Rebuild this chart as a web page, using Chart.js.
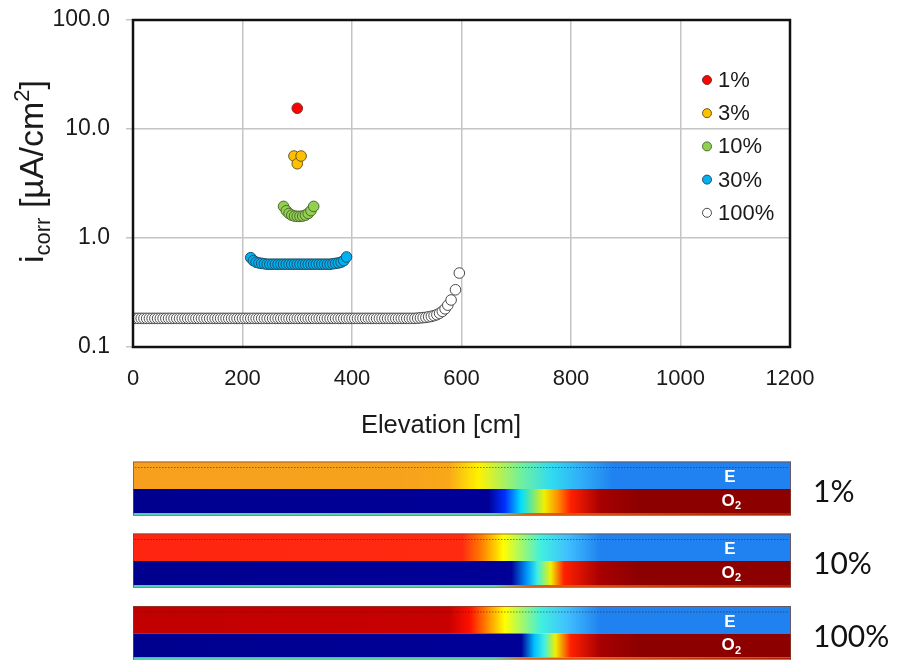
<!DOCTYPE html>
<html><head><meta charset="utf-8">
<script src="https://cdn.jsdelivr.net/npm/chart.js@4.4.1/dist/chart.umd.min.js"></script>
<style>html,body{margin:0;padding:0;background:#fff;}canvas{display:block;}</style>
</head><body>
<canvas id="c" width="897" height="660"></canvas>
<script>
// ---- data ----
const seriesLabels = ['1%', '3%', '10%', '30%', '100%'];
const elev1 = [300];
const icorr1 = [15.5];
const elev3 = [294, 300, 307];
const icorr3 = [5.65, 4.8, 5.65];
const elev10 = [275, 280, 285, 290, 295, 300, 305, 310, 315, 320, 325, 330];
const icorr10 = [1.95, 1.78, 1.68, 1.62, 1.59, 1.58, 1.58, 1.59, 1.62, 1.68, 1.78, 1.95];
const elev30 = [215, 220, 225, 230, 235, 240, 245, 250, 255, 260, 265, 270, 275, 280, 285, 290, 295, 300,
  305, 310, 315, 320, 325, 330, 335, 340, 345, 350, 355, 360, 365, 370, 375, 380, 385, 390];
const icorr30 = [0.66, 0.62, 0.60, 0.59, 0.585, 0.58, 0.575, 0.575, 0.575, 0.575, 0.575, 0.575, 0.575, 0.575, 0.575, 0.575, 0.575, 0.575,
  0.575, 0.575, 0.575, 0.575, 0.575, 0.575, 0.575, 0.575, 0.575, 0.575, 0.575, 0.575, 0.58, 0.585, 0.59, 0.60, 0.62, 0.67];
const elev100 = [0, 5, 10, 15, 20, 25, 30, 35, 40, 45,
  50, 55, 60, 65, 70, 75, 80, 85, 90, 95,
  100, 105, 110, 115, 120, 125, 130, 135, 140, 145,
  150, 155, 160, 165, 170, 175, 180, 185, 190, 195,
  200, 205, 210, 215, 220, 225, 230, 235, 240, 245,
  250, 255, 260, 265, 270, 275, 280, 285, 290, 295,
  300, 305, 310, 315, 320, 325, 330, 335, 340, 345,
  350, 355, 360, 365, 370, 375, 380, 385, 390, 395,
  400, 405, 410, 415, 420, 425, 430, 435, 440, 445,
  450, 455, 460, 465, 470, 475, 480, 485, 490, 495,
  500, 505, 510, 515, 520, 525, 530, 535, 540, 545,
  550, 555, 560, 565, 570, 575, 581, 589, 596];
const icorr100 = [0.183, 0.183, 0.183, 0.183, 0.183, 0.183, 0.183, 0.183, 0.183, 0.183,
  0.183, 0.183, 0.183, 0.183, 0.183, 0.183, 0.183, 0.183, 0.183, 0.183,
  0.183, 0.183, 0.183, 0.183, 0.183, 0.183, 0.183, 0.183, 0.183, 0.183,
  0.183, 0.183, 0.183, 0.183, 0.183, 0.183, 0.183, 0.183, 0.183, 0.183,
  0.183, 0.183, 0.183, 0.183, 0.183, 0.183, 0.183, 0.183, 0.183, 0.183,
  0.183, 0.183, 0.183, 0.183, 0.183, 0.183, 0.183, 0.183, 0.183, 0.183,
  0.183, 0.183, 0.183, 0.183, 0.183, 0.183, 0.183, 0.183, 0.183, 0.183,
  0.183, 0.183, 0.183, 0.183, 0.183, 0.183, 0.183, 0.183, 0.183, 0.183,
  0.183, 0.183, 0.183, 0.183, 0.183, 0.183, 0.183, 0.183, 0.183, 0.183,
  0.183, 0.183, 0.183, 0.183, 0.183, 0.183, 0.183, 0.183, 0.183, 0.183,
  0.183, 0.183, 0.183, 0.183, 0.184, 0.185, 0.186, 0.187, 0.189, 0.191,
  0.194, 0.198, 0.204, 0.212, 0.224, 0.242, 0.27, 0.335, 0.477];
const xTicks = [0, 200, 400, 600, 800, 1000, 1200];
const yTicks = [0.1, 1, 10, 100];
const xTitle = 'Elevation [cm]';
const stripLabels = ['1%', '10%', '100%'];

// ---- styles ----
const fills = ['#ff0000', '#ffc000', '#92d050', '#00b0f0', '#ffffff'];
const borders = ['#7a3030', '#6a5a20', '#4d6a30', '#20506a', '#4a4a4a'];
const FONT = '"Liberation Sans", Arial, sans-serif';

function pts(xs, ys) { return xs.map((x, i) => ({ x: x, y: ys[i] })); }
const seriesData = [pts(elev1, icorr1), pts(elev3, icorr3), pts(elev10, icorr10), pts(elev30, icorr30), pts(elev100, icorr100)];

const stripStyles = [
  { E: [[0, '#f6a01e'], [0.40, '#f7a21c'], [0.48, '#f8a818'], [0.525, '#fff200'], [0.59, '#70f0a0'], [0.635, '#30dcf0'], [0.68, '#30aef8'], [0.73, '#2082f0'], [1, '#2082f0']],
    O: [[0, '#00008f'], [0.54, '#000098'], [0.565, '#0030ff'], [0.59, '#00e0ff'], [0.625, '#f0f000'], [0.645, '#ff9000'], [0.665, '#ff2000'], [0.71, '#a80000'], [0.77, '#8c0000'], [1, '#8c0000']] },
  { E: [[0, '#ff2510'], [0.5, '#ff2a10'], [0.53, '#ff8000'], [0.563, '#ffff00'], [0.62, '#40f0e0'], [0.66, '#40c0ff'], [0.71, '#2082f0'], [1, '#2082f0']],
    O: [[0, '#00008f'], [0.575, '#000098'], [0.6, '#00a0ff'], [0.615, '#40f0e0'], [0.635, '#f0f000'], [0.655, '#ff2000'], [0.71, '#a80000'], [0.77, '#8c0000'], [1, '#8c0000']] },
  { E: [[0, '#c20000'], [0.48, '#c80000'], [0.512, '#ff1000'], [0.54, '#ff9000'], [0.565, '#ffff00'], [0.62, '#40f0e0'], [0.66, '#40c0ff'], [0.71, '#2082f0'], [1, '#2082f0']],
    O: [[0, '#00008f'], [0.59, '#000098'], [0.61, '#00c0ff'], [0.625, '#40f0e0'], [0.642, '#f0f000'], [0.665, '#ff2000'], [0.71, '#a80000'], [0.77, '#8c0000'], [1, '#8c0000']] }
];

const decor = {
  id: 'decor',
  beforeDraw(chart) {
    const ctx = chart.ctx;
    ctx.save(); ctx.fillStyle = '#fff'; ctx.fillRect(0, 0, chart.width, chart.height); ctx.restore();
  },
  afterDatasetsDraw(chart) {
    const ctx = chart.ctx, a = chart.chartArea;
    ctx.save();
    // frame
    ctx.strokeStyle = '#111'; ctx.lineWidth = 2.5;
    ctx.strokeRect(a.left, a.top, a.right - a.left, a.bottom - a.top);
    // legend
    const lx = a.right - 83, ly0 = a.top + 60, dy = 33.2;
    ctx.font = '22px ' + FONT; ctx.textBaseline = 'middle'; ctx.textAlign = 'left';
    chart.data.datasets.forEach((ds, i) => {
      const y = ly0 + i * dy;
      ctx.beginPath(); ctx.arc(lx, y, 4.5, 0, Math.PI * 2);
      ctx.fillStyle = ds.backgroundColor; ctx.fill();
      ctx.lineWidth = 1; ctx.strokeStyle = ds.borderColor; ctx.stroke();
      ctx.fillStyle = '#1a1a1a'; ctx.fillText(ds.label, lx + 11, y + 1);
    });
    // x axis title
    ctx.font = '25.5px ' + FONT; ctx.textAlign = 'center'; ctx.textBaseline = 'alphabetic';
    ctx.fillText(xTitle, 441, 433);
    // y axis title with subscript / superscript
    ctx.translate(43, 263); ctx.rotate(-Math.PI / 2);
    ctx.textAlign = 'left'; ctx.fillStyle = '#1a1a1a';
    let x = 0;
    const big = '34px ' + FONT, small = '22px ' + FONT;
    const parts = [['i', big, 0], ['corr', small, 7], [' [\u00b5A/cm', big, 0], ['2', small, -14], [']', big, 0]];
    parts.forEach(p => { ctx.font = p[1]; ctx.fillText(p[0], x, p[2]); x += ctx.measureText(p[0]).width; });
    ctx.restore();
  },
  afterDraw(chart) {
    const ctx = chart.ctx, a = chart.chartArea;
    const L = a.left, R = 791, W = R - L;
    const tops = [461.5, 533.5, 606];
    const eH = 27.5, oH = 24;
    ctx.save();
    tops.forEach((t, k) => {
      const st = stripStyles[k];
      const gE = ctx.createLinearGradient(L, 0, R, 0);
      st.E.forEach(s => gE.addColorStop(s[0], s[1]));
      ctx.fillStyle = gE; ctx.fillRect(L, t, W, eH);
      const gO = ctx.createLinearGradient(L, 0, R, 0);
      st.O.forEach(s => gO.addColorStop(s[0], s[1]));
      ctx.fillStyle = gO; ctx.fillRect(L, t + eH, W, oH);
      const gB = ctx.createLinearGradient(L, 0, R, 0);
      gB.addColorStop(0, '#50d0b0'); gB.addColorStop(0.55, '#60d090'); gB.addColorStop(0.6, '#e06010'); gB.addColorStop(1, '#b02000');
      ctx.fillStyle = gB; ctx.fillRect(L, t + eH + oH, W, 2);
      ctx.strokeStyle = 'rgba(130,70,50,0.7)'; ctx.lineWidth = 1;
      ctx.strokeRect(L + 0.5, t + 0.5, W - 1, eH + oH + 2);
      ctx.setLineDash([1.5, 1.5]); ctx.strokeStyle = 'rgba(60,30,20,0.55)';
      ctx.beginPath(); ctx.moveTo(L + 2, t + 6); ctx.lineTo(R - 2, t + 6); ctx.stroke();
      ctx.setLineDash([]);
      ctx.fillStyle = '#fff'; ctx.font = 'bold 17px ' + FONT; ctx.textAlign = 'center'; ctx.textBaseline = 'middle';
      ctx.fillText('E', 730, t + 16);
      ctx.fillText('O', 728, t + eH + 12);
      ctx.font = 'bold 11px ' + FONT; ctx.fillText('2', 738, t + eH + 17);
      ctx.fillStyle = '#111'; ctx.font = '30px Lato, "Open Sans", sans-serif'; ctx.textAlign = 'left';
      ctx.fillText(stripLabels[k], 813, t + 31);
    });
    ctx.restore();
  }
};

new Chart(document.getElementById('c'), {
  type: 'scatter',
  data: {
    datasets: seriesLabels.map((lab, i) => ({
      label: lab, data: seriesData[i], backgroundColor: fills[i], borderColor: borders[i],
      pointRadius: 5.3, pointBorderWidth: 1, pointHoverRadius: 5.3, showLine: false
    }))
  },
  options: {
    responsive: false, animation: false, devicePixelRatio: 1,
    layout: { padding: { left: 0, top: 20, right: 107, bottom: 223 } },
    plugins: { legend: { display: false }, tooltip: { enabled: false } },
    scales: {
      x: {
        type: 'linear', min: 0, max: 1200,
        afterBuildTicks: s => { s.ticks = xTicks.map(v => ({ value: v })); },
        afterFit: s => { s.height = 90; s.paddingLeft = 0; s.paddingRight = 0; },
        ticks: { font: { size: 22, family: FONT }, color: '#1a1a1a', padding: 19, maxRotation: 0, callback: v => String(v) },
        grid: { color: '#c4c4c4', lineWidth: 1.5, drawTicks: false },
        border: { display: false }
      },
      y: {
        type: 'logarithmic', min: 0.1, max: 100,
        afterBuildTicks: s => { s.ticks = yTicks.map(v => ({ value: v })); },
        afterFit: s => { s.width = 133; s.paddingTop = 0; s.paddingBottom = 0; },
        ticks: { font: { size: 23, family: FONT }, color: '#1a1a1a', padding: 16, callback: v => Number(v).toFixed(1) },
        grid: { color: '#c4c4c4', lineWidth: 1.5, tickLength: 7 },
        border: { display: false }
      }
    }
  },
  plugins: [decor]
});
</script>
</body></html>
